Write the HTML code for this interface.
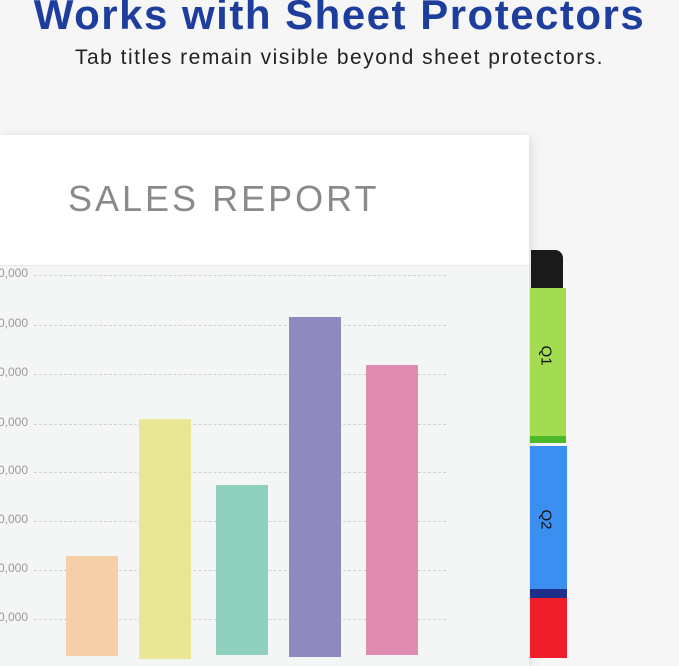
<!DOCTYPE html><html><head><style>
body{margin:0;width:679px;height:653px;overflow:hidden;background:#f6f6f6;font-family:"Liberation Sans",sans-serif;position:relative}
.a{position:absolute}
.g{position:absolute;left:34px;width:412px;border-top:1px dashed #d0d2d2}
.l{position:absolute;right:651px;font-size:12px;color:#999;text-align:right}
</style></head><body>
<div class="a" style="left:0;top:-9px;width:679px;text-align:center;font-size:42px;font-weight:bold;color:#1d3e9c;letter-spacing:1.5px;white-space:nowrap">Works with Sheet Protectors</div>
<div class="a" style="left:0;top:46px;width:679px;text-align:center;font-size:21px;color:#222;letter-spacing:1.5px;white-space:nowrap">Tab titles remain visible beyond sheet protectors.</div>
<div class="a" style="left:0;top:135px;width:529px;height:530px;background:#fff;box-shadow:2px 2px 10px rgba(0,0,0,.12)"></div>
<div class="a" style="left:0;top:265px;width:529px;height:400px;background:#f4f5f5;border-top:1px solid #e8e8e8"></div>
<div class="a" style="left:68px;top:178px;font-size:36px;color:#8a8a8a;letter-spacing:3px;white-space:nowrap">SALES REPORT</div>
<div class="g" style="top:275px"></div><div class="g" style="top:325px"></div><div class="g" style="top:374px"></div><div class="g" style="top:424px"></div><div class="g" style="top:472px"></div><div class="g" style="top:521px"></div><div class="g" style="top:570px"></div><div class="g" style="top:619px"></div>
<div class="l" style="top:266px">0,000</div><div class="l" style="top:316px">0,000</div><div class="l" style="top:365px">0,000</div><div class="l" style="top:415px">0,000</div><div class="l" style="top:463px">0,000</div><div class="l" style="top:512px">0,000</div><div class="l" style="top:561px">0,000</div><div class="l" style="top:610px">0,000</div>
<div class="a" style="left:66px;top:556px;width:52px;height:100px;background:#f4cfa8"></div>
<div class="a" style="left:139px;top:419px;width:52px;height:240px;background:#e9e696"></div>
<div class="a" style="left:216px;top:485px;width:52px;height:170px;background:#8fcfbe"></div>
<div class="a" style="left:289px;top:317px;width:52px;height:340px;background:#8e8abf"></div>
<div class="a" style="left:366px;top:365px;width:52px;height:290px;background:#e28bb0"></div>
<div class="a" style="left:531px;top:250px;width:32px;height:40px;background:#1a1a1a;border-radius:0 8px 0 0"></div>
<div class="a" style="left:530px;top:288px;width:36px;height:155px;background:#a3dc50;border-bottom:7px solid #4cb82a;box-sizing:border-box"></div>
<div class="a" style="left:530px;top:446px;width:37px;height:152px;background:#3a8ff0;border-bottom:9px solid #1f2f8a;box-sizing:border-box"></div>
<div class="a" style="left:530px;top:598px;width:37px;height:60px;background:#f01e2a"></div>
<div class="a" style="left:536px;top:347px;font-size:15px;transform:rotate(90deg);color:#111">Q1</div>
<div class="a" style="left:536px;top:511px;font-size:15px;transform:rotate(90deg);color:#111">Q2</div>
</body></html>
